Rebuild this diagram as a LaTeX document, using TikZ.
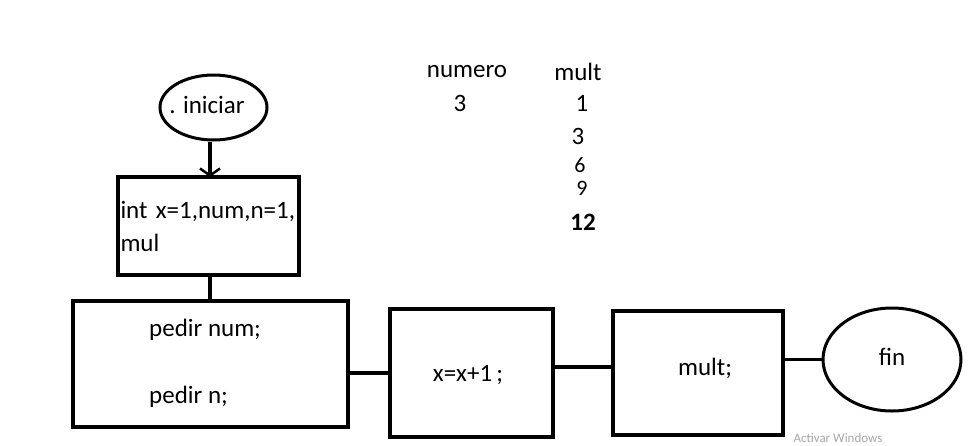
\documentclass[tikz,border=0pt]{standalone}
\usepackage{fontspec}
\setmainfont{Carlito}
\usetikzlibrary{shapes.geometric,arrows.meta}
\begin{document}
\begin{tikzpicture}[x=1pt,y=-1pt,
  every node/.style={font=\fontsize{25}{33}\selectfont, inner sep=0pt},
  boxnode/.style={draw, line width=3.5pt, rectangle, minimum width=#1},
  ovalnode/.style={draw, line width=3pt, ellipse},
  conn/.style={line width=3.5pt},
  txt/.style={text=black}
]
\useasboundingbox (0,0) rectangle (972,445);
% start
\node[ovalnode, minimum width=107pt, minimum height=65pt] (iniciar) at (213.5,107.5) {};
\node[txt] (tini) at (207,105) {. iniciar};
% declaration box
\node[boxnode=181pt, minimum height=98pt, align=left, text width=176pt, inner xsep=2.5pt] (decl) at (208.5,226)
  {int x=1,num,n=1,\\mul};
% input box
\node[boxnode=275pt, minimum height=126pt] (pedir) at (210.5,364) {};
\node[txt, anchor=west] (tpn) at (149,330) {pedir num;};
\node[txt, anchor=west] (tpn2) at (149,397) {pedir n;};
% increment box
\node[boxnode=163pt, minimum height=128pt] (incr) at (471.5,373) {};
\node[txt] (tinc) at (468,375) {x=x+1\,;};
% mult box
\node[boxnode=170pt, minimum height=124pt] (mult) at (698,373) {};
\node[txt] (tmult) at (705,368) {mult;};
% end
\node[ovalnode, minimum width=138pt, minimum height=103pt] (fin) at (892,359.5) {};
\node[txt] (tfin) at (892,357) {fin};
% connectors
\draw[conn, -{Straight Barb[length=7pt,width=20pt,line width=2.5pt]}] (iniciar.south -| 210,0) -- (210,177);
\coordinate (dtop) at (210,177);
\draw[conn] (decl.south -| dtop) -- (pedir.north -| dtop);
\draw[conn] (pedir.east |- incr.west) -- (incr.west);
\draw[conn] ([yshift=6pt]incr.east) -- ([yshift=6pt]mult.west);
\draw[conn] (mult.east |- fin.west) -- (fin.west);
% table
\node[txt] (hnum) at (467,72) {numero};
\node[txt] (hmult) at (578,72) {mult};
\node[txt] (v3) at (460,103) {3};
\node[txt] (m1) at (582,103) {1};
\node[txt] (m3) at (578,136) {3};
\node[txt, font=\fontsize{22}{26}\selectfont] (m6) at (580,165) {6};
\node[txt, font=\fontsize{22}{26}\selectfont] (m9) at (582,188) {9};
\node[txt, font=\bfseries\fontsize{25}{30}\selectfont] (m12) at (583,222) {12};
% watermark
\node[text=black!35, font=\fontsize{13}{15}\selectfont] (wm) at (838,438) {Activar Windows};
\end{tikzpicture}
\end{document}
